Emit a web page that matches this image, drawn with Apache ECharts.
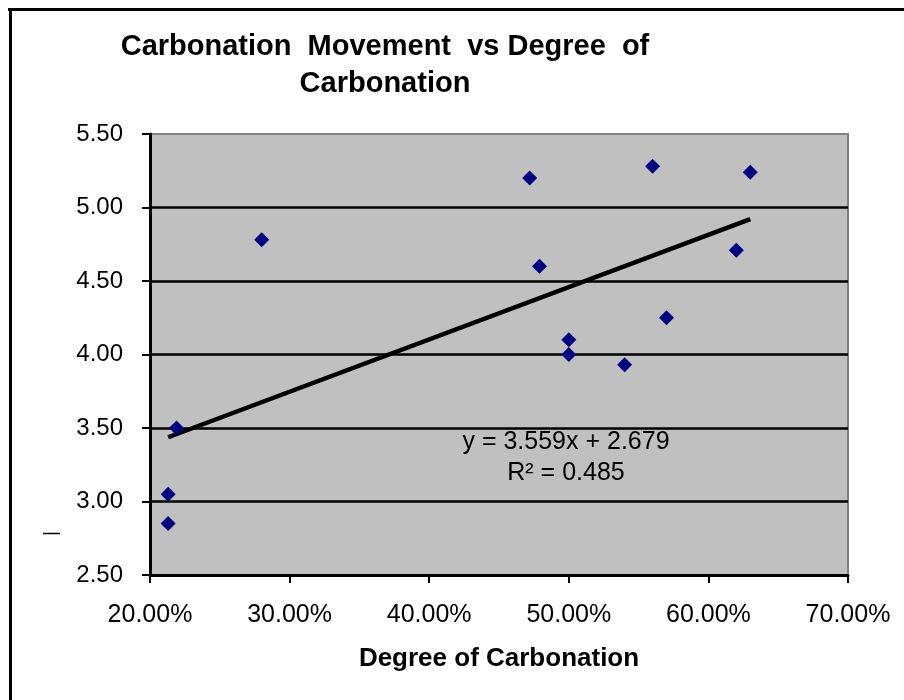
<!DOCTYPE html>
<html>
<head>
<meta charset="utf-8">
<script src="https://cdn.jsdelivr.net/npm/echarts@6/dist/echarts.min.js"></script>
<style>
  html, body { margin: 0; padding: 0; background: #fff; }
  #chart { width: 904px; height: 700px; }
</style>
</head>
<body>
<div id="chart"></div>
<script>
// degree of carbonation (fraction) and carbonation movement
const degree = [0.213, 0.213, 0.219, 0.28, 0.472, 0.479, 0.50, 0.50, 0.54, 0.56, 0.57, 0.62, 0.63];
const movement = [2.85, 3.05, 3.50, 4.78, 5.20, 4.60, 4.10, 4.00, 3.93, 5.28, 4.25, 4.71, 5.24];

// linear trendline as shown on the chart
const slope = 3.559;
const intercept = 2.679;
const eqLines = ['y = 3.559x + 2.679', 'R² = 0.485'];

const points = degree.map((d, i) => [d, movement[i]]);
const xMin = Math.min(...degree);
const xMax = Math.max(...degree);
const trend = [[xMin, slope * xMin + intercept], [xMax, slope * xMax + intercept]];

const font = '"Liberation Sans", Arial, sans-serif';
const narrow = '"Liberation Sans Narrow", "Liberation Sans", Arial, sans-serif';

const chart = echarts.init(document.getElementById('chart'));

chart.setOption({
    backgroundColor: '#fff',
    animation: false,
    title: {
        text: 'Carbonation  Movement  vs Degree  of\nCarbonation',
        left: 380,
        top: 23,
        textAlign: 'center',
        textStyle: {
            fontFamily: narrow,
            fontWeight: 'bold',
            fontSize: 29,
            lineHeight: 37,
            color: '#000'
        }
    },
    grid: {
        left: 150,
        right: 56,
        top: 134,
        bottom: 125,
        show: true,
        backgroundColor: '#c0c0c0',
        borderColor: '#808080',
        borderWidth: 2
    },
    xAxis: {
        type: 'value',
        min: 0.2,
        max: 0.7,
        interval: 0.1,
        name: 'Degree of Carbonation',
        nameLocation: 'middle',
        nameGap: 71,
        nameTextStyle: { fontFamily: narrow, fontWeight: 'bold', fontSize: 26, color: '#000' },
        axisLine: { lineStyle: { color: '#000', width: 3 } },
        axisTick: { length: 8, lineStyle: { color: '#000', width: 2 } },
        axisLabel: {
            margin: 28,
            fontFamily: font,
            fontSize: 25,
            color: '#000',
            formatter: v => (v * 100).toFixed(2) + '%'
        },
        splitLine: { show: false }
    },
    yAxis: {
        type: 'value',
        min: 2.5,
        max: 5.5,
        interval: 0.5,
        axisLine: { lineStyle: { color: '#000', width: 3 } },
        axisTick: { length: 8, lineStyle: { color: '#000', width: 2 } },
        axisLabel: {
            margin: 27,
            fontFamily: font,
            fontSize: 24,
            color: '#000',
            formatter: v => v.toFixed(2)
        },
        splitLine: {
            show: true,
            lineStyle: {
                width: 2.5,
                color: ['transparent', '#000', '#000', '#000', '#000', '#000', 'transparent']
            }
        }
    },
    series: [
        {
            type: 'line',
            data: trend,
            symbol: 'none',
            lineStyle: { color: '#000', width: 4.5 },
            z: 3
        },
        {
            type: 'scatter',
            data: points,
            symbol: 'diamond',
            symbolSize: 15,
            itemStyle: { color: '#000080', opacity: 1 },
            z: 4
        }
    ],
    graphic: [
        { type: 'line', shape: { x1: 8, y1: 9.5, x2: 904, y2: 9.5 }, style: { stroke: '#000', lineWidth: 3 } },
        { type: 'line', shape: { x1: 10.5, y1: 8, x2: 10.5, y2: 700 }, style: { stroke: '#000', lineWidth: 3 } },
        { type: 'line', shape: { x1: 43, y1: 533.5, x2: 60, y2: 533.5 }, style: { stroke: '#000', lineWidth: 1.5 } },
        {
            type: 'text',
            x: 566,
            y: 442,
            z: 5,
            style: {
                text: eqLines[0],
                textAlign: 'center',
                textVerticalAlign: 'middle',
                font: '25px ' + font,
                fill: '#000'
            }
        },
        {
            type: 'text',
            x: 566,
            y: 473,
            z: 5,
            style: {
                text: eqLines[1],
                textAlign: 'center',
                textVerticalAlign: 'middle',
                font: '25px ' + font,
                fill: '#000'
            }
        }
    ]
});
</script>
</body>
</html>
